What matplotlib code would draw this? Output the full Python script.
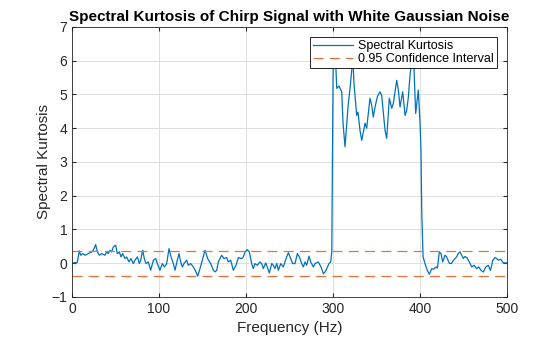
import matplotlib.pyplot as plt
import numpy as np

plt.rcParams['font.family'] = ['Liberation Sans', 'DejaVu Sans']

# Spectral kurtosis (Hz, SK)
freq = [0, 1.5, 6, 8.4, 10, 12.3, 15, 18.8, 22.6, 24.5, 27.2, 29.1, 31.4, 34.1, 37.9,
        39.8, 41.8, 43.7, 45.6, 47.5, 50.2, 52.1, 54.4, 56.3, 58.2, 60.9, 62.8, 65.5,
        67.8, 70.5, 72.4, 75.1, 77.4, 78.9, 81.2, 83.1, 85.0, 87.7, 90.4, 93.5, 96.2,
        98.1, 101.0, 103.8, 106.1, 108.8, 111.5, 113.8, 116.5, 118.4, 121.0, 123.0,
        124.9, 126.8, 128.7, 131.8, 133.7, 136.4, 139.5, 142.5, 144.5, 147.1, 150.2,
        152.9, 155.9, 159.4, 162.5, 164.4, 166.3, 168.2, 172.0, 174.7, 177.8, 179.7,
        182.4, 185.4, 188.5, 191.2, 195.0, 196.9, 198.9, 201.5, 203.8, 206.5, 208.4,
        210.3, 213.0, 216.1, 218.0, 219.9, 222.6, 224.5, 226.8, 229.5, 231.4, 233.3,
        235.3, 237.2, 239.9, 242.9, 246.0, 248.7, 250.6, 253.6, 256.3, 259.0, 261.3,
        264.0, 265.9, 267.8, 269.7, 272.4, 274.3, 277.4, 279.3, 283.1, 286.2, 288.9,
        290.8, 292.8, 295.4, 297.4, 298.6, 299.3, 300.3, 302.3, 304.3, 306.9, 310.0,
        311.5, 313.8, 317.2, 319.5, 321.5, 322.6, 324.1, 327.2, 328.7, 331.0, 333.0,
        336.8, 338.7, 342.5, 344.5, 346.3, 348.3, 350.9, 354.0, 355.9, 359.8, 361.7,
        364.7, 367.5, 369.3, 373.2, 375.1, 377.0, 380.1, 382.8, 384.7, 386.6, 388.5,
        390.5, 392.3, 395.0, 398.0, 400.0, 401.1, 402.0, 403.5, 405.7, 408.4, 410.7,
        413.4, 415.5, 418.4, 420.0, 422.2, 424.0, 426.1, 428.7, 430.5, 433.7, 436.0,
        438.5, 442.1, 444.0, 446.0, 447.8, 449.8, 451.7, 454.0, 456.7, 459.4, 462.0,
        465.2, 467.5, 470.1, 472.8, 475.5, 478.5, 480.8, 482.0, 483.6, 486.2, 488.0,
        490.0, 492.7, 495.8, 500.0]
sk = [0.0, 0.01, 0.02, 0.365, 0.237, 0.286, 0.237, 0.286, 0.336, 0.385, 0.553, 0.336,
      0.237, 0.286, 0.237, 0.336, 0.286, 0.385, 0.336, 0.484, 0.533, 0.286, 0.336,
      0.188, 0.286, 0.138, 0.188, 0.04, 0.138, -0.01, 0.09, 0.188, -0.01, 0.09, 0.385,
      0.138, -0.01, 0.04, -0.207, 0.09, 0.138, -0.01, -0.207, -0.01, -0.109, -0.01,
      0.435, 0.188, -0.01, -0.207, 0.09, 0.286, 0.04, -0.109, -0.01, 0.09, -0.06,
      -0.01, -0.109, -0.257, -0.385, -0.158, 0.138, 0.385, 0.138, -0.01, -0.207,
      -0.257, -0.21, 0.04, 0.237, 0.138, 0.17, 0.04, 0.09, -0.207, -0.06, 0.17, 0.138,
      0.188, 0.336, 0.405, 0.336, -0.01, -0.158, -0.01, -0.06, 0.04, -0.01, -0.158,
      0.01, -0.11, -0.29, -0.01, -0.06, -0.158, -0.01, -0.207, -0.01, -0.11, 0.138,
      0.316, 0.188, -0.01, -0.01, 0.286, 0.188, -0.01, -0.11, 0.04, -0.06, 0.21, 0.04,
      -0.11, -0.01, 0.04, -0.11, -0.31, -0.26, -0.158, -0.01, 0.04, 0.35, 3.0, 6.3,
      6.4, 5.18, 5.25, 5.08, 4.15, 3.45, 4.63, 5.17, 5.72, 6.2, 5.33, 4.38, 4.48, 3.94,
      3.64, 4.15, 4.0, 4.89, 4.68, 4.33, 4.63, 4.93, 5.08, 4.98, 3.94, 3.70, 4.89,
      4.59, 4.73, 5.42, 5.13, 4.63, 5.08, 4.38, 4.53, 4.93, 5.57, 6.0, 6.3, 4.44, 5.13,
      4.15, 3.35, 1.5, 0.19, -0.01, -0.21, -0.33, -0.16, -0.18, -0.11, -0.14, 0.336,
      0.29, 0.04, 0.24, 0.19, 0.0, -0.01, 0.09, 0.19, 0.29, 0.34, 0.24, 0.14, 0.2,
      0.16, 0.04, -0.11, -0.06, -0.16, -0.11, -0.21, -0.26, -0.11, -0.06, -0.21,
      -0.11, 0.09, 0.17, 0.14, 0.09, 0.12, 0.01, 0.01]
ci = 0.37

fig = plt.figure(figsize=(5.6, 3.37), dpi=100)
ax = fig.add_axes([0.1286, 0.1187, 0.7768, 0.8012])

ax.plot(freq, sk, color=(0, 0.447, 0.741), lw=0.9, label='Spectral Kurtosis')
ax.axhline(ci, color='#E8703A', lw=0.9, ls=(0, (8, 5)),
           label='0.95 Confidence Interval')
ax.axhline(-ci, color='#E8703A', lw=0.9, ls=(0, (8, 5)))

ax.set_xlim(0, 500)
ax.set_ylim(-1, 7)
ax.set_xticks(np.arange(0, 501, 100))
ax.set_yticks(np.arange(-1, 8, 1))
ax.grid(True, color=(0.85, 0.85, 0.85), lw=0.6)
ax.set_axisbelow(True)
ax.tick_params(direction='in', length=3, labelsize=10, colors=(0.15, 0.15, 0.15),
               top=True, right=True, labeltop=False, labelright=False)
for s in ax.spines.values():
    s.set_color((0.15, 0.15, 0.15))
    s.set_linewidth(0.6)

ax.set_xlabel('Frequency (Hz)', fontsize=11, color=(0.15, 0.15, 0.15), labelpad=4)
ax.set_ylabel('Spectral Kurtosis', fontsize=11, color=(0.15, 0.15, 0.15), labelpad=0)
ax.set_title('Spectral Kurtosis of Chirp Signal with White Gaussian Noise',
             fontsize=11, fontweight='bold', pad=4)

leg = ax.legend(loc='upper right', fontsize=9, frameon=True, fancybox=False,
                edgecolor='black', framealpha=1, handlelength=3.2, handletextpad=0.4,
                borderpad=0.25, labelspacing=0.1, borderaxespad=0.8)
leg.get_frame().set_linewidth(0.6)

fig.savefig('out.png', dpi=100)
